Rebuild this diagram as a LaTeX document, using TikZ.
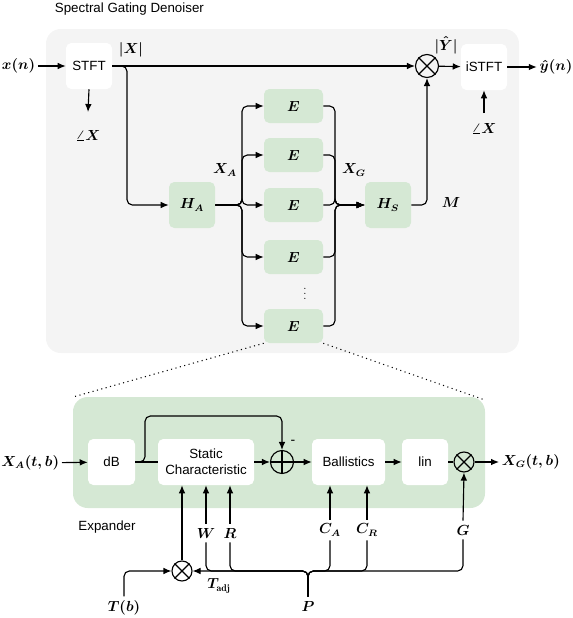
\documentclass[tikz,border=0pt]{standalone}
\usepackage{fontspec}
\setsansfont{Liberation Sans}
\usetikzlibrary{arrows.meta}
\definecolor{outergray}{HTML}{F4F4F4}
\definecolor{boxgreen}{HTML}{D5E8D4}
\begin{document}
\begin{tikzpicture}[x=0.75pt,y=-0.75pt,
  font=\fontsize{10.5pt}{12.5pt}\selectfont\boldmath,
  every node/.style={inner sep=2pt},
  sfont/.style={font=\sffamily\fontsize{10pt}{12pt}\selectfont},
  wbox/.style={fill=white, rounded corners=4pt, inner sep=0pt, align=center, sfont},
  gbox/.style={fill=boxgreen, rounded corners=4pt, inner sep=0pt},
  ebox/.style={gbox, minimum width=44.25pt, minimum height=25.5pt},
  sq/.style={minimum width=34.5pt, minimum height=34.5pt},
  ln/.style={line width=0.85pt, rounded corners=4pt},
  arr/.style={ln, -{Latex[length=6pt,width=5pt]}},
  opc/.style={circle, draw, line width=0.85pt, inner sep=0pt, minimum size=#1},
  lab/.style={inner sep=3pt}
]
\useasboundingbox (0,0) rectangle (572,618);

% backgrounds
\fill[outergray, rounded corners=11pt] (46,29) rectangle (519,353);
\fill[boxgreen, rounded corners=11pt] (73,397) rectangle (485,508);

\node[sfont, anchor=west] (title) at (52,9) {Spectral Gating Denoiser};
\node[sfont] (expl) at (107,527) {Expander};

% ---------- top part ----------
\node[wbox, sq] (stft) at (89,66) {STFT};
\node[wbox, sq] (istft) at (484,67) {iSTFT};
\node[opc=17.25pt] (mul) at (427,66) {};
\draw[line width=0.85pt] (mul.north west) -- (mul.south east) (mul.north east) -- (mul.south west);

\node[anchor=east] (xn) at (38,66) {$x(n)$};
\node (yn) at (556,67) {$\hat{y}(n)$};
\node (absX) at (131,50) {$|X|$};
\node (absY) at (446,45) {$|\hat{Y}|$};
\node (ang1) at (88,135) {$\angle X$};
\node (ang2) at (484,128) {$\angle X$};
\coordinate (a1) at (88,112);
\coordinate (a2) at (484,113);

\node[gbox, sq] (HA) at (192,205) {$H_A$};
\node[gbox, sq] (HS) at (388,205) {$H_S$};
\node[ebox] (E1) at (293.5,106) {$E$};
\node[ebox] (E2) at (293.5,155) {$E$};
\node[ebox] (E3) at (293.5,205) {$E$};
\node[ebox] (E4) at (293.5,257) {$E$};
\node[ebox] (E5) at (293.5,326) {$E$};
\node[font=\fontsize{8pt}{9pt}\selectfont] (dots) at (305,290) {$\vdots$};
\node (XA) at (225,170) {$X_A$};
\node (XG) at (354,170) {$X_G$};
\node (M) at (451,202) {$M$};

\draw[arr] (xn) -- (stft);
\draw[arr] (stft.east) -- (mul);
\draw[arr] (mul) -- (istft);
\draw[arr] (istft) -- (yn);
\draw[arr] (stft.south) -- (a1);
\draw[arr] (a2) -- (istft.south);
\draw[arr] (stft.east) -- (127,66) -- (127,205) -- (HA.west);
\foreach \e in {E1,E2,E3,E4,E5}{
  \draw[arr] (HA.east) -- (242,205) |- (\e.west);
  \draw[arr] (\e.east) -| (335,205) -- (HS.west);
}
\draw[arr] (HS.east) -| (mul.south);

% dotted zoom lines
\draw[line width=0.8pt, dash pattern=on 0.8pt off 2.6pt] (E5.south west) -- (73,397);
\draw[line width=0.8pt, dash pattern=on 0.8pt off 2.6pt] (E5.south east) -- (485,400);

% ---------- expander ----------
\node[wbox, minimum width=35.25pt, minimum height=34.5pt] (dB) at (111.5,462) {dB};
\node[wbox, minimum width=72pt, minimum height=34.5pt] (SC) at (206,462) {Static\\Characteristic};
\node[opc=17.25pt] (sum) at (282,462) {};
\draw[line width=0.85pt] (sum.north) -- (sum.south) (sum.west) -- (sum.east);
\node[wbox, minimum width=54.75pt, minimum height=34.5pt] (bal) at (348.5,462) {Ballistics};
\node[wbox, sq] (lin) at (425,462) {lin};
\node[opc=15pt] (gm) at (464,462) {};
\draw[line width=0.85pt] (gm.north west) -- (gm.south east) (gm.north east) -- (gm.south west);
\node[anchor=east] (XAtb) at (62,463) {$X_A(t,b)$};
\node[anchor=west] (XGtb) at (499,462) {$X_G(t,b)$};
\node (minus) at (293,442) {\sffamily -};

\node[opc=15pt] (tm) at (182,571) {};
\draw[line width=0.85pt] (tm.north west) -- (tm.south east) (tm.north east) -- (tm.south west);

\node[lab] (W) at (206,533) {$W$};
\node[lab] (R) at (230,533) {$R$};
\node[lab] (CA) at (330,530) {$C_A$};
\node[lab] (CR) at (367,530) {$C_R$};
\node[lab] (G) at (463,530) {$G$};
\node[lab] (P) at (308,606) {$P$};
\node[lab] (Tb) at (124,608) {$T(b)$};
\node (Tadj) at (219,586) {$T_{\mathrm{adj}}$};
\coordinate (J) at (308,571);

\draw[arr] (XAtb) -- (dB);
\draw[ln] (dB.east) -- (SC.west);
\draw[arr] (dB.east) -- (145,462) -- (145,416) -| (sum.north);
\draw[arr] (SC.east) -- (sum.west);
\draw[arr] (sum.east) -- (bal.west);
\draw[arr] (bal.east) -- (lin.west);
\draw[ln] (lin.east) -- (gm.west);
\draw[arr] (gm.east) -- (XGtb.west);

\draw[arr] (tm.north) -- (tm.north |- SC.south);
\draw[arr] (W.north) -- (W.north |- SC.south);
\draw[arr] (R.north) -- (R.north |- SC.south);
\draw[arr] (CA.north) -- (CA.north |- bal.south);
\draw[arr] (CR.north) -- (CR.north |- bal.south);
\draw[arr] (G.north) -- (gm.south);

\draw[arr] (Tb.north) |- (tm.west);
\draw[arr] (P.north) -- (J) -- (tm.east);
\foreach \n in {W,R,CA,CR,G}{
  \draw[ln] (P.north) -- (J) -| (\n.south);
}
\end{tikzpicture}
\end{document}
